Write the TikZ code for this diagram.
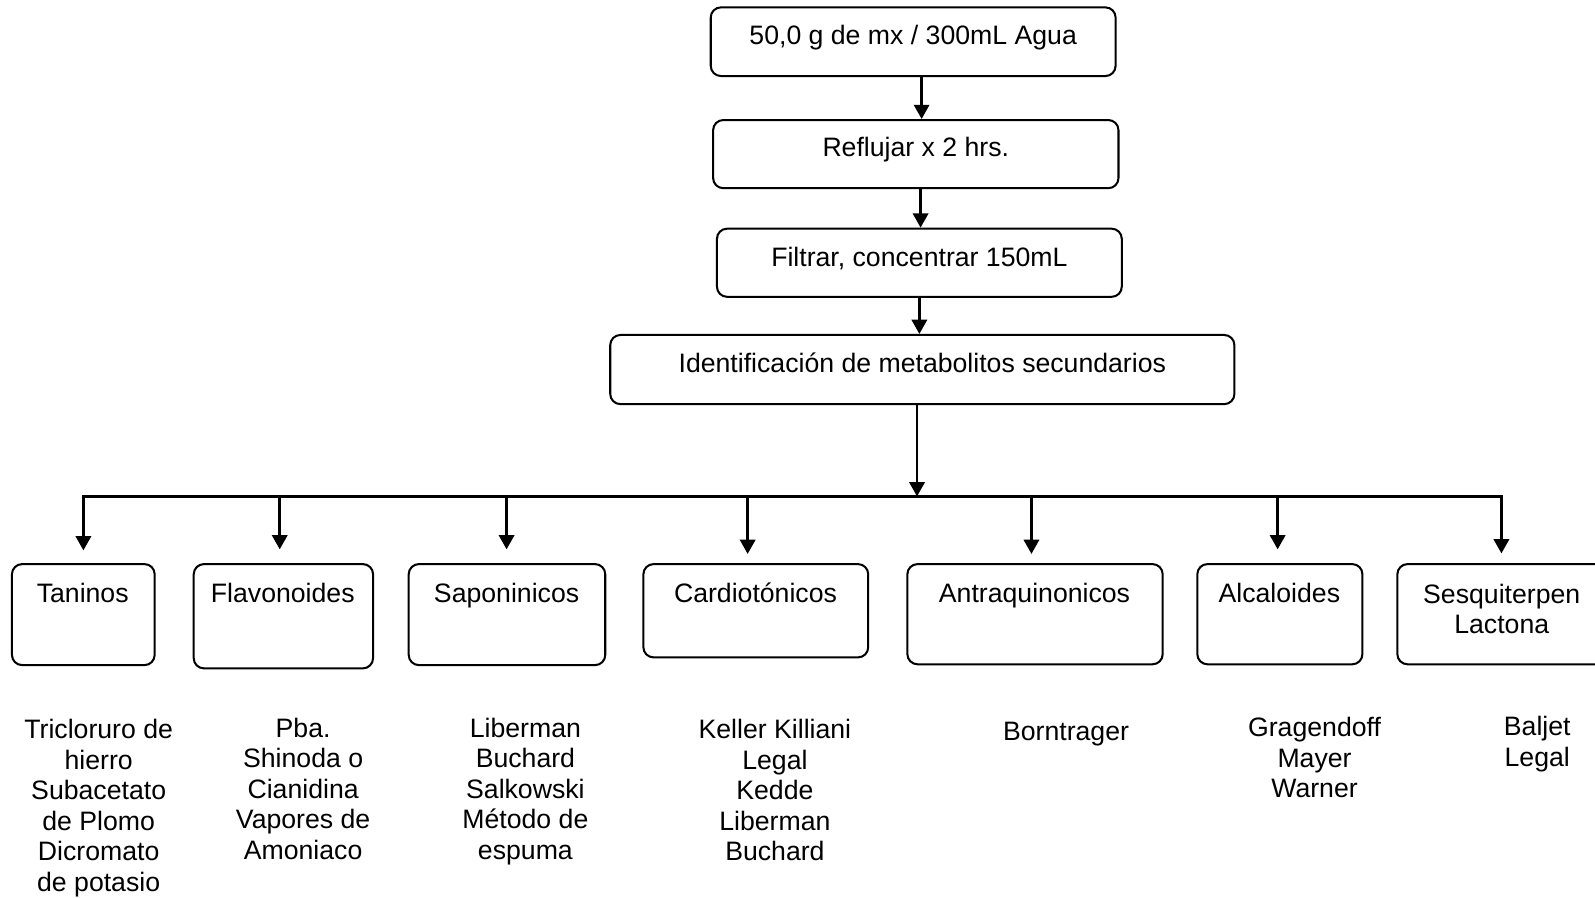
\documentclass[tikz,border=0pt]{standalone}
\usepackage{fontspec}
\setmainfont{Liberation Sans}
\usetikzlibrary{arrows.meta}
\begin{document}
\begin{tikzpicture}[x=1pt,y=-1pt,
  box/.style={draw, line width=2pt, rounded corners=10pt, inner sep=0pt},
  lbl/.style={font=\fontsize{26.2}{30}\selectfont, inner sep=0pt, align=center},
  arr/.style={line width=2.6pt, -{Triangle[length=14pt,width=15pt]}},
  busline/.style={line width=2.6pt}]
\useasboundingbox (0,0) rectangle (1568,882);
\clip (0,0) rectangle (1568,882);
% top chain
\node[box, minimum width=398pt, minimum height=67.5pt] (b1) at (897.7,41) {};
\node[lbl, anchor=base] (l1) at (897.7,44) {50,0 g de mx / 300mL Agua};
\node[box, minimum width=398.5pt, minimum height=67pt] (b2) at (900.3,151.5) {};
\node[lbl, anchor=base] (l2) at (900.3,154) {Reflujar x 2 hrs.};
\node[box, minimum width=398pt, minimum height=67pt] (b3) at (903.8,258.3) {};
\node[lbl, anchor=base] (l3) at (903.8,262) {Filtrar, concentrar 150mL};
\node[box, minimum width=613.6pt, minimum height=68pt] (b4) at (906.7,363.3) {};
\node[lbl, anchor=base] (l4) at (906.7,366) {Identificación de metabolitos secundarios};
\draw[arr] ([xshift=8.3pt]b1.south) -- ([xshift=8.3pt]b1.south |- b2.north);
\draw[arr] ([xshift=4.7pt]b2.south) -- ([xshift=4.7pt]b2.south |- b3.north);
\draw[arr] (b3.south) -- (b3.south |- b4.north);
% bus
\coordinate (hub) at (901.5,488);
\coordinate (d1) at (82,488);
\coordinate (d2) at (275,488);
\coordinate (d3) at (498,488);
\coordinate (d4) at (735,488);
\coordinate (d5) at (1014,488);
\coordinate (d6) at (1256,488);
\coordinate (d7) at (1476,488);
\draw[arr] (hub |- b4.south) -- (hub);
\draw[busline] ([xshift=-1.3pt]d1) -- ([xshift=1.3pt]d7);
% bottom boxes
\node[box, minimum width=140.3pt, minimum height=99.3pt] (c1) at (81.9,604.2) {};
\node[box, minimum width=176.3pt, minimum height=102.5pt] (c2) at (278.6,605.8) {};
\node[box, minimum width=193.2pt, minimum height=99.3pt] (c3) at (498.4,604.2) {};
\node[box, minimum width=221pt, minimum height=91.7pt] (c4) at (743,600.4) {};
\node[box, minimum width=251pt, minimum height=98.5pt] (c5) at (1017.5,603.8) {};
\node[box, minimum width=162.3pt, minimum height=98.5pt] (c6) at (1258.2,603.8) {};
\node[box, minimum width=205.2pt, minimum height=98.5pt] (c7) at (1476.3,603.8) {};
\draw[arr, shorten >=12.5pt] (d1) -- (d1 |- c1.north);
\draw[arr, shorten >=13.5pt] (d2) -- (d2 |- c2.north);
\draw[arr, shorten >=13.5pt] (d3) -- (d3 |- c3.north);
\draw[arr, shorten >=9pt] (d4) -- (d4 |- c4.north);
\draw[arr, shorten >=9pt] (d5) -- (d5 |- c5.north);
\draw[arr, shorten >=13.5pt] (d6) -- (d6 |- c6.north);
\draw[arr, shorten >=9.5pt] (d7) -- (d7 |- c7.north);
% box labels
\node[lbl, anchor=base] (k1) at (81.3,592.5) {Taninos};
\node[lbl, anchor=base] (k2) at (278,592.5) {Flavonoides};
\node[lbl, anchor=base] (k3) at (498,592.5) {Saponinicos};
\node[lbl, anchor=base] (k4) at (742.7,592.5) {Cardiotónicos};
\node[lbl, anchor=base] (k5) at (1017,592.5) {Antraquinonicos};
\node[lbl, anchor=base] (k6) at (1257.7,592.5) {Alcaloides};
\node[lbl, anchor=north] (k7) at (1476.3,573.7) {Sesquiterpen\\Lactona};
% test lists
\node[lbl, anchor=north] (m1) at (97,707.2) {Tricloruro de\\hierro\\Subacetato\\de Plomo\\Dicromato\\de potasio};
\node[lbl, anchor=north] (m2) at (298,705.4) {Pba.\\Shinoda o\\Cianidina\\Vapores de\\Amoniaco};
\node[lbl, anchor=north] (m3) at (516.5,705.4) {Liberman\\Buchard\\Salkowski\\Método de\\espuma};
\node[lbl, anchor=north] (m4) at (761.8,707.2) {Keller Killiani\\Legal\\Kedde\\Liberman\\Buchard};
\node[lbl, anchor=north] (m5) at (1048,709.4) {Borntrager};
\node[lbl, anchor=north] (m6) at (1292.3,705.2) {Gragendoff\\Mayer\\Warner};
\node[lbl, anchor=north] (m7) at (1511.2,704.2) {Baljet\\Legal};
\end{tikzpicture}
\end{document}
